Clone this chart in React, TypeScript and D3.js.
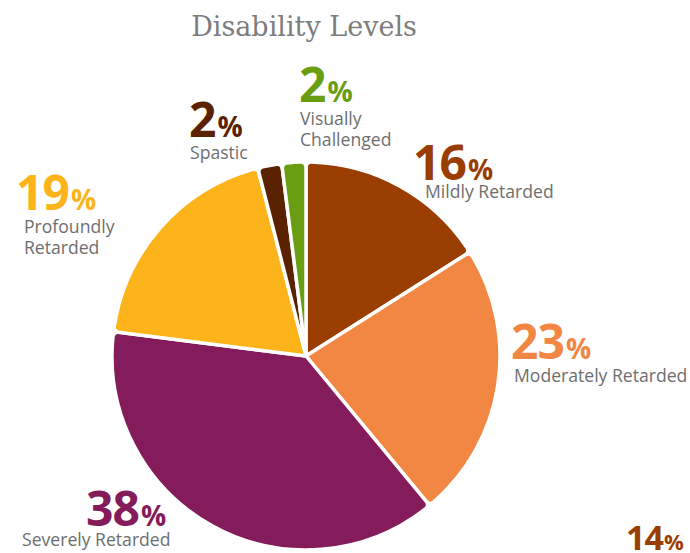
import React from "react";
import * as d3 from "d3";

const categories = ["Mildly Retarded", "Moderately Retarded", "Severely Retarded", "Profoundly Retarded", "Spastic", "Visually Challenged"];
const values = [16, 23, 38, 19, 2, 2];
const labelLines = [["Mildly Retarded"], ["Moderately Retarded"], ["Severely Retarded"], ["Profoundly", "Retarded"], ["Spastic"], ["Visually", "Challenged"]];
const extraLabel = { value: 14 };

const colors = ["#9a3d00", "#f28744", "#841b5a", "#fdb31a", "#5a2201", "#6a9e12"];
// layout of label blocks: [numberX, numberBaseline, textX, firstTextBaseline]
const labelLayout: [number, number, number, number][] = [
  [413, 180, 425, 198],
  [511, 359, 514, 382],
  [86, 526, 22, 546],
  [16, 210, 24, 233],
  [189, 137, 190, 159],
  [299, 102, 300, 125],
];

const W = 690, H = 553;
const cx = 306, cy = 356, R = 194;

export default function App() {
  const pie = d3.pie<number>().sort(null).value((d) => d).startAngle(0).endAngle(2 * Math.PI);
  const arcs = pie(values);
  const arc = d3.arc<d3.PieArcDatum<number>>().innerRadius(0).outerRadius(R).cornerRadius(5);
  const numFont = "'Open Sans', sans-serif";
  return (
    <svg width={W} height={H} style={{ position: "absolute", left: 0, top: 0, background: "#fff" }}>
      <text x={304} y={36} textAnchor="middle" fill="#7d7d7d" fontFamily="'DejaVu Serif', serif" fontSize={27}>
        Disability Levels
      </text>
      <g transform={`translate(${cx},${cy})`}>
        {arcs.map((a, i) => (
          <path key={categories[i]} d={arc(a) || ""} fill={colors[i]} stroke="#fff" strokeWidth={3.5} strokeLinejoin="round" />
        ))}
      </g>
      {values.map((v, i) => {
        const [nx, ny, tx, ty] = labelLayout[i];
        return (
          <g key={"l" + i}>
            <text x={nx} y={ny} fill={colors[i]} fontFamily={numFont} fontWeight={700} fontSize={48} letterSpacing={-1}>
              {v}
              <tspan fontSize={28} dx={2}>%</tspan>
            </text>
            {labelLines[i].map((t, j) => (
              <text key={j} x={tx} y={ty + j * 21} fill="#6e6e6e" fontFamily={numFont} fontSize={17.6}>
                {t}
              </text>
            ))}
          </g>
        );
      })}
      <text x={626} y={550} fill={colors[0]} fontFamily={numFont} fontWeight={700} fontSize={34} letterSpacing={-1}>
        {extraLabel.value}
        <tspan fontSize={22} dx={1}>%</tspan>
      </text>
    </svg>
  );
}
